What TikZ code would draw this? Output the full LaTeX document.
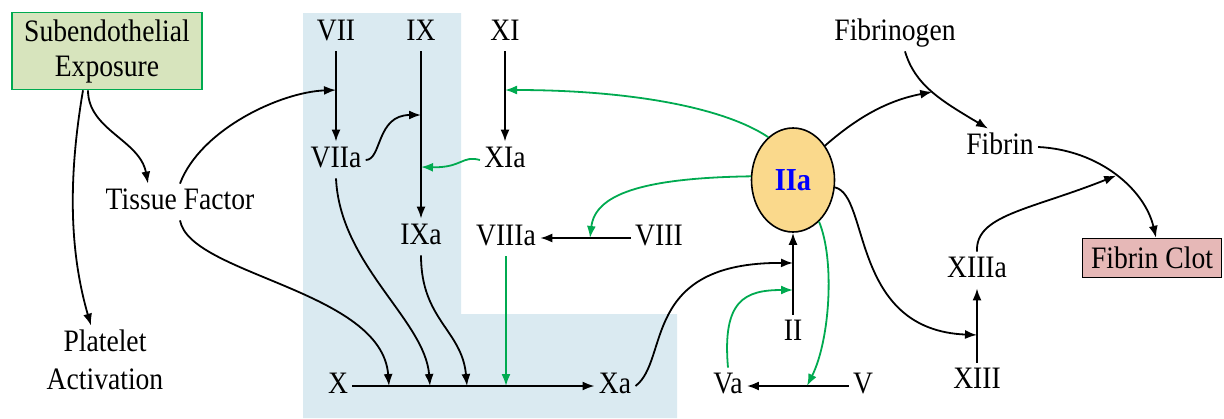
\documentclass[tikz,border=0pt]{standalone}
\usepackage{fontspec}
\setmainfont[FakeStretch=0.885]{Liberation Serif}
\usetikzlibrary{arrows.meta,shapes.geometric}

\definecolor{grn}{RGB}{0,170,80}
\definecolor{bgblue}{RGB}{218,234,241}
\definecolor{subfill}{RGB}{215,228,189}
\definecolor{clotfill}{RGB}{230,184,183}
\definecolor{iiafill}{RGB}{250,217,140}

\begin{document}
\begin{tikzpicture}[
  x=0.5pt, y=-0.5pt,
  every node/.style={font=\fontsize{15.6}{17.5}\selectfont},
  lbl/.style={inner sep=2pt, text height=10.5pt, text depth=3.5pt},
  arr/.style={-{Latex[length=6pt,width=4.5pt]}, line width=0.9pt},
  garr/.style={arr, draw=grn},
  subbox/.style={draw=grn, line width=0.8pt, fill=subfill, align=center, minimum width=95pt, minimum height=38.5pt, inner sep=1pt},
  clotbox/.style={draw, line width=0.7pt, fill=clotfill, minimum width=69.5pt, minimum height=19.5pt, inner sep=1pt},
  thrombin/.style={ellipse, draw, line width=0.8pt, fill=iiafill, minimum width=41.5pt, minimum height=52pt, inner sep=0pt, text=blue, font=\fontsize{16}{18}\selectfont\bfseries}
]
\useasboundingbox (0,0) rectangle (1224,418);

% shaded region
\fill[bgblue] (303,13) -- (461,13) -- (461,314) -- (677,314) -- (677,418) -- (303,418) -- cycle;

% nodes
\node[subbox] (sub) at (107,51) {Subendothelial\\Exposure};
\node[lbl] (tf) at (180,202) {Tissue Factor};
\node[align=center, inner sep=2pt, font=\fontsize{15.6}{19}\selectfont] (plat) at (105,360) {Platelet\\Activation};

\node[lbl] (vii) at (336,33) {VII};
\node[lbl] (viia) at (336,160) {VIIa};
\node[lbl] (ix) at (421,33) {IX};
\node[lbl] (ixa) at (421,237) {IXa};
\node[lbl] (xi) at (505,33) {XI};
\node[lbl] (xia) at (505,160) {XIa};
\node[lbl] (viiia) at (506,238) {VIIIa};
\node[lbl] (viii) at (659,238) {VIII};
\node[lbl] (x) at (338,386) {X};
\node[lbl] (xa) at (615,386) {Xa};

\node[thrombin] (iia) at (793,180) {IIa};
\node[lbl] (ii) at (793,333) {II};
\node[lbl] (va) at (728,386) {Va};
\node[lbl] (v) at (863,386) {V};

\node[lbl] (fgen) at (895,33) {Fibrinogen};
\node[lbl] (fib) at (1000,147) {Fibrin};
\node[clotbox] (clot) at (1152,258) {Fibrin Clot};
\node[lbl] (xiiia) at (977,270) {XIIIa};
\node[lbl] (xiii) at (977,381) {XIII};

% initiation
\draw[arr] ([xshift=-12pt]sub.south) .. controls (66,190) and (72,260) .. ([xshift=-7pt]plat.north);
\draw[arr] ([xshift=-9.5pt]sub.south) .. controls (88,130) and (140,140) .. ([xshift=-16pt]tf.north);
\draw[arr] (tf.north) .. controls (200,130) and (280,92) .. (vii |- 0,90);
\draw[arr] (tf.south) .. controls (190,275) and (382,290) .. (x -| 389,0);

% intrinsic / extrinsic
\draw[arr] (vii) -- (viia);
\draw[arr] (ix) -- (ixa);
\draw[arr] (xi) -- (xia);
\draw[arr] (viia.east) .. controls (382,160) and (376,115) .. (ix |- 0,115);
\draw[garr] (xia.west) .. controls (462,155) and (462,168) .. (ix |- 0,167);
\draw[arr] (viia.south) .. controls (340,265) and (425,320) .. (x -| 430,0);
\draw[arr] (ixa.south) .. controls (421,320) and (462,330) .. (x -| 467,0);
\draw[arr] (viii) -- (viiia);
\draw[garr] (viiia) -- (viiia |- x);
\draw[arr] (x) -- (xa);

% common pathway
\draw[arr] (xa.east) .. controls (670,360) and (640,262) .. (ii |- 0,263);
\draw[garr] (va.north) .. controls (722,300) and (745,290) .. (ii |- 0,290);
\draw[arr] (ii) -- (iia);
\draw[arr] (v) -- (va);

% thrombin feedback
\draw[garr] (iia.120) .. controls (720,105) and (620,90) .. (xi |- 0,90);
\draw[garr] (iia.175) .. controls (640,178) and (595,195) .. (viii -| 590,0);
\draw[garr] (iia.302) .. controls (835,260) and (830,340) .. (v -| 807,0);

% fibrin formation
\draw[arr] ([xshift=5pt]fgen.south) .. controls (915,85) and (940,100) .. ([xshift=-6pt]fib.north) coordinate[pos=0.5] (fgmid);
\draw[arr] (iia.47) .. controls (860,115) and (890,100) .. (fgmid);
\draw[arr] (fib.east) .. controls (1100,150) and (1145,190) .. ([xshift=2pt]clot.north) coordinate[pos=0.5] (fibmid);
\draw[arr] (iia.350) .. controls (870,195) and (850,330) .. (xiii |- 0,335);
\draw[arr] (xiii) -- (xiiia);
\draw[arr] (xiiia.north) .. controls (975,215) and (1030,210) .. (fibmid);

\end{tikzpicture}
\end{document}
